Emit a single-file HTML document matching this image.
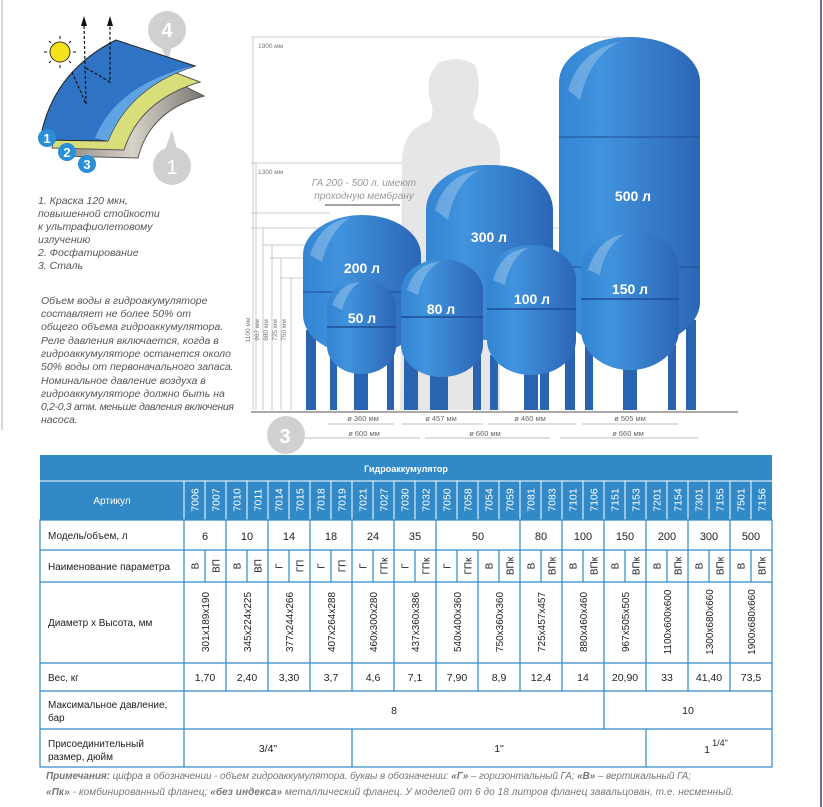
<!DOCTYPE html>
<html><head><meta charset="utf-8">
<style>
html,body{margin:0;padding:0;background:#fff;}
svg{display:block;font-family:"Liberation Sans","DejaVu Sans",sans-serif;}
</style></head><body>
<svg width="823" height="807" viewBox="0 0 823 807" xmlns="http://www.w3.org/2000/svg">
<defs>
<linearGradient id="tg" x1="0" y1="0" x2="1" y2="0">
<stop offset="0" stop-color="#3384d2"/><stop offset="0.3" stop-color="#4193dd"/><stop offset="1" stop-color="#2c66b6"/>
</linearGradient>
<linearGradient id="gr" x1="0" y1="0" x2="1" y2="0">
<stop offset="0" stop-color="#8a8680"/><stop offset="0.5" stop-color="#d8d4cc"/><stop offset="1" stop-color="#7a766e"/>
</linearGradient>
</defs>
<rect width="823" height="807" fill="#fff"/>
<line x1="2" y1="0" x2="2" y2="430" stroke="#ccc" stroke-width="1.5"/>
<line x1="821" y1="0" x2="821" y2="807" stroke="#4a3a7a" stroke-width="1.5"/>

<!-- left illustration -->
<circle cx="167" cy="30" r="19" fill="#d0d0d0"/><path d="M160,45 L172,45 L168,62 Z" fill="#d0d0d0"/>
<text x="167" y="37" font-size="20" fill="#fff" text-anchor="middle" font-weight="bold">4</text>
<circle cx="172" cy="166" r="19" fill="#d0d0d0"/><path d="M165,150 L177,150 L172,130 Z" fill="#d0d0d0"/>
<text x="172" y="174" font-size="20" fill="#fff" text-anchor="middle">1</text>
<path d="M60,156 Q70,90 136,62 L204,96 Q150,110 138,158 Z" fill="url(#gr)" stroke="#555" stroke-width="1"/>
<path d="M52,148 Q62,82 126,54 L200,82 Q140,100 124,150 Z" fill="#d8df7a" stroke="#555" stroke-width="1"/>
<path d="M40,140 Q52,72 116,40 L195,66 Q130,86 108,141 Z" fill="#2f74c4" stroke="#222" stroke-width="1"/>
<path d="M95,138 Q115,88 185,68 L195,66 Q130,86 108,141 Z" fill="#5fa3e3"/>
<circle cx="60" cy="52" r="10" fill="#f5e21a" stroke="#333"/>
<g stroke="#333" stroke-width="1.2"><line x1="60" y1="36" x2="60" y2="39"/><line x1="60" y1="65" x2="60" y2="68"/><line x1="44" y1="52" x2="47" y2="52"/><line x1="73" y1="52" x2="76" y2="52"/><line x1="49" y1="41" x2="51" y2="43"/><line x1="69" y1="61" x2="71" y2="63"/><line x1="49" y1="63" x2="51" y2="61"/><line x1="69" y1="43" x2="71" y2="41"/></g>
<g stroke="#111" stroke-width="1.2" stroke-dasharray="3,2" fill="none"><path d="M72,72 L86,104 L84,24"/><path d="M86,68 L110,82 L110,24"/></g>
<path d="M81,26 L84,16 L87,26 Z M107,26 L110,16 L113,26 Z" fill="#111"/>
<circle cx="47" cy="138" r="9" fill="#2a8fd6"/><text x="47" y="143" font-size="13" fill="#fff" text-anchor="middle" font-weight="bold">1</text>
<circle cx="67" cy="152" r="9" fill="#2a8fd6"/><text x="67" y="157" font-size="13" fill="#fff" text-anchor="middle" font-weight="bold">2</text>
<circle cx="87" cy="164" r="9" fill="#2a8fd6"/><text x="87" y="169" font-size="13" fill="#fff" text-anchor="middle" font-weight="bold">3</text>
<g font-size="10.5" font-style="italic" fill="#555">
<text x="38" y="204">1. Краска 120 мкн,</text>
<text x="38" y="217">повышенной стойкости</text>
<text x="38" y="230">к ультрафиолетовому</text>
<text x="38" y="243">излучению</text>
<text x="38" y="256">2. Фосфатирование</text>
<text x="38" y="269">3. Сталь</text>
<text x="41" y="304">Объем воды в гидроакумуляторе</text>
<text x="41" y="317">составляет не более 50% от</text>
<text x="41" y="330">общего объема гидроаккумулятора.</text>
<text x="41" y="344">Реле давления включается, когда в</text>
<text x="41" y="357">гидроаккумуляторе останется около</text>
<text x="41" y="370">50% воды от первоначального запаса.</text>
<text x="41" y="384">Номинальное давление воздуха в</text>
<text x="41" y="397">гидроаккумуляторе  должно быть на</text>
<text x="41" y="410" textLength="193">0,2-0,3 атм. меньше давления включения</text>
<text x="41" y="423">насоса.</text>
</g>

<!-- dimension lines -->
<g stroke="#bbb" stroke-width="0.8">
<line x1="251" y1="37" x2="620" y2="37"/><line x1="253" y1="37" x2="253" y2="410"/>
<line x1="251" y1="163" x2="430" y2="163"/><line x1="256" y1="163" x2="256" y2="410"/>
<line x1="251" y1="213" x2="330" y2="213"/>
<line x1="251" y1="228" x2="560" y2="228"/><line x1="263" y1="228" x2="263" y2="410"/>
<line x1="262" y1="245" x2="500" y2="245"/><line x1="272" y1="245" x2="272" y2="410"/>
<line x1="270" y1="258" x2="420" y2="258"/><line x1="281" y1="258" x2="281" y2="410"/>
<line x1="280" y1="278" x2="340" y2="278"/><line x1="291" y1="278" x2="291" y2="410"/>
</g>
<g font-size="6.5" fill="#777">
<text x="258" y="48">1900 мм</text><text x="258" y="174">1300 мм</text>
<text transform="translate(250,330) rotate(-90)" text-anchor="middle">1100 мм</text>
<text transform="translate(259,330) rotate(-90)" text-anchor="middle">967 мм</text>
<text transform="translate(268,330) rotate(-90)" text-anchor="middle">880 мм</text>
<text transform="translate(277,330) rotate(-90)" text-anchor="middle">725 мм</text>
<text transform="translate(286,330) rotate(-90)" text-anchor="middle">750 мм</text>
</g>

<!-- person -->
<path d="M440,62 Q460,55 475,65 Q482,85 476,105 Q470,115 478,122 Q498,128 500,150 L500,410 L400,410 L402,160 Q404,128 428,122 Q436,115 430,100 Q424,75 440,62 Z" fill="#e6e6e6"/>

<!-- tanks -->
<g fill="#2a64b0">
<rect x="565" y="320" width="10" height="90"/><rect x="686" y="320" width="10" height="90"/>
<rect x="306" y="330" width="10" height="80"/><rect x="408" y="330" width="10" height="80"/>
<rect x="430" y="320" width="9" height="90"/><rect x="540" y="320" width="9" height="90"/>
</g>
<rect x="559" y="37" width="141" height="310" rx="70" ry="45" fill="url(#tg)"/>
<line x1="559" y1="137" x2="700" y2="137" stroke="#1d4f95"/>
<line x1="559" y1="267" x2="700" y2="267" stroke="#1d4f95"/>
<rect x="303" y="215" width="118" height="140" rx="59" ry="40" fill="url(#tg)"/>
<line x1="303" y1="292" x2="421" y2="292" stroke="#1d4f95"/>
<rect x="426" y="165" width="127" height="175" rx="60" ry="45" fill="url(#tg)"/>
<g fill="#2a64b0">
<rect x="585" y="345" width="8" height="65"/><rect x="668" y="345" width="8" height="65"/><rect x="623" y="350" width="14" height="60"/>
<rect x="490" y="355" width="8" height="55"/><rect x="566" y="355" width="8" height="55"/><rect x="524" y="360" width="14" height="50"/>
<rect x="404" y="355" width="8" height="55"/><rect x="473" y="355" width="8" height="55"/><rect x="434" y="360" width="14" height="50"/>
<rect x="330" y="350" width="7" height="60"/><rect x="387" y="350" width="7" height="60"/><rect x="354" y="350" width="14" height="60"/>
</g>
<rect x="581" y="230" width="98" height="140" rx="49" ry="40" fill="url(#tg)"/>
<line x1="581" y1="299" x2="679" y2="299" stroke="#1d4f95" stroke-width="1.5"/>
<rect x="487" y="245" width="89" height="130" rx="44" ry="35" fill="url(#tg)"/>
<line x1="487" y1="309" x2="576" y2="309" stroke="#1d4f95" stroke-width="1.5"/>
<rect x="401" y="259" width="82" height="118" rx="41" ry="32" fill="url(#tg)"/>
<line x1="401" y1="317" x2="483" y2="317" stroke="#1d4f95" stroke-width="1.5"/>
<rect x="327" y="279" width="69" height="95" rx="34" ry="28" fill="url(#tg)"/>
<line x1="327" y1="327" x2="396" y2="327" stroke="#1d4f95" stroke-width="1.5"/>
<g fill="#ffffff" opacity="0.25">
<path d="M568,90 Q580,50 620,42 Q590,55 580,100 Z"/><path d="M435,210 Q445,175 480,170 Q455,182 448,220 Z"/>
<path d="M310,255 Q320,222 350,218 Q330,230 322,262 Z"/><path d="M588,270 Q598,238 625,234 Q605,245 600,275 Z"/>
<path d="M493,280 Q502,250 528,248 Q510,258 505,285 Z"/><path d="M407,290 Q415,263 440,262 Q424,270 418,295 Z"/>
<path d="M332,305 Q340,283 360,282 Q347,290 342,310 Z"/>
</g>
<g fill="#fff" font-weight="bold" font-size="14" text-anchor="middle">
<text x="633" y="201">500 л</text><text x="489" y="242">300 л</text><text x="362" y="273">200 л</text>
<text x="630" y="294">150 л</text><text x="532" y="304">100 л</text><text x="441" y="314">80 л</text><text x="362" y="323">50 л</text>
</g>
<g font-size="10" font-style="italic" fill="#999" text-anchor="middle">
<text x="364" y="186">ГА 200 - 500 л. имеют</text><text x="364" y="199">проходную мембрану</text>
</g>
<line x1="325" y1="205" x2="400" y2="205" stroke="#444"/>
<line x1="251" y1="412" x2="738" y2="412" stroke="#777" stroke-width="1.2"/>
<g stroke="#aaa" stroke-width="0.7">
<line x1="328" y1="424" x2="394" y2="424"/><line x1="402" y1="424" x2="483" y2="424"/><line x1="488" y1="424" x2="576" y2="424"/><line x1="582" y1="424" x2="678" y2="424"/>
<line x1="305" y1="438" x2="420" y2="438"/><line x1="425" y1="438" x2="550" y2="438"/><line x1="560" y1="438" x2="698" y2="438"/>
</g>
<g font-size="7.5" fill="#666" text-anchor="middle">
<text x="363" y="421">ø 360 мм</text><text x="441" y="421">ø 457 мм</text><text x="530" y="421">ø 460 мм</text><text x="630" y="421">ø 505 мм</text>
<text x="364" y="436">ø 600 мм</text><text x="485" y="436">ø 660 мм</text><text x="628" y="436">ø 660 мм</text>
</g>
<circle cx="286" cy="435" r="19" fill="#d0d0d0"/><text x="285" y="443" font-size="20" fill="#fff" text-anchor="middle" font-weight="bold">3</text>

<!-- table -->
<rect x="40" y="455" width="732" height="65" fill="#3189c8"/>
<line x1="40" y1="481" x2="772" y2="481" stroke="#fff" stroke-width="1"/>
<text x="406" y="472" fill="#fff" font-size="9" font-weight="bold" text-anchor="middle">Гидроаккумулятор</text>
<text x="112" y="504" fill="#fff" font-size="10" text-anchor="middle">Артикул</text>
<g stroke="#fff" stroke-width="1">
<line x1="184" y1="481" x2="184" y2="520"/><line x1="205" y1="481" x2="205" y2="520"/><line x1="226" y1="481" x2="226" y2="520"/><line x1="247" y1="481" x2="247" y2="520"/><line x1="268" y1="481" x2="268" y2="520"/><line x1="289" y1="481" x2="289" y2="520"/><line x1="310" y1="481" x2="310" y2="520"/><line x1="331" y1="481" x2="331" y2="520"/><line x1="352" y1="481" x2="352" y2="520"/><line x1="373" y1="481" x2="373" y2="520"/><line x1="394" y1="481" x2="394" y2="520"/><line x1="415" y1="481" x2="415" y2="520"/><line x1="436" y1="481" x2="436" y2="520"/><line x1="457" y1="481" x2="457" y2="520"/><line x1="478" y1="481" x2="478" y2="520"/><line x1="499" y1="481" x2="499" y2="520"/><line x1="520" y1="481" x2="520" y2="520"/><line x1="541" y1="481" x2="541" y2="520"/><line x1="562" y1="481" x2="562" y2="520"/><line x1="583" y1="481" x2="583" y2="520"/><line x1="604" y1="481" x2="604" y2="520"/><line x1="625" y1="481" x2="625" y2="520"/><line x1="646" y1="481" x2="646" y2="520"/><line x1="667" y1="481" x2="667" y2="520"/><line x1="688" y1="481" x2="688" y2="520"/><line x1="709" y1="481" x2="709" y2="520"/><line x1="730" y1="481" x2="730" y2="520"/><line x1="751" y1="481" x2="751" y2="520"/>
</g>
<g fill="#fff" font-size="10.5" text-anchor="middle">
<text transform="translate(198.5,500) rotate(-90)">7006</text><text transform="translate(219.5,500) rotate(-90)">7007</text><text transform="translate(240.5,500) rotate(-90)">7010</text><text transform="translate(261.5,500) rotate(-90)">7011</text><text transform="translate(282.5,500) rotate(-90)">7014</text><text transform="translate(303.5,500) rotate(-90)">7015</text><text transform="translate(324.5,500) rotate(-90)">7018</text><text transform="translate(345.5,500) rotate(-90)">7019</text><text transform="translate(366.5,500) rotate(-90)">7021</text><text transform="translate(387.5,500) rotate(-90)">7027</text><text transform="translate(408.5,500) rotate(-90)">7030</text><text transform="translate(429.5,500) rotate(-90)">7032</text><text transform="translate(450.5,500) rotate(-90)">7050</text><text transform="translate(471.5,500) rotate(-90)">7058</text><text transform="translate(492.5,500) rotate(-90)">7054</text><text transform="translate(513.5,500) rotate(-90)">7059</text><text transform="translate(534.5,500) rotate(-90)">7081</text><text transform="translate(555.5,500) rotate(-90)">7083</text><text transform="translate(576.5,500) rotate(-90)">7101</text><text transform="translate(597.5,500) rotate(-90)">7106</text><text transform="translate(618.5,500) rotate(-90)">7151</text><text transform="translate(639.5,500) rotate(-90)">7153</text><text transform="translate(660.5,500) rotate(-90)">7201</text><text transform="translate(681.5,500) rotate(-90)">7154</text><text transform="translate(702.5,500) rotate(-90)">7301</text><text transform="translate(723.5,500) rotate(-90)">7155</text><text transform="translate(744.5,500) rotate(-90)">7501</text><text transform="translate(765.5,500) rotate(-90)">7156</text>
</g>
<g stroke="#3189c8" stroke-width="1.2" fill="none">
<rect x="40" y="520" width="732" height="247"/>
<line x1="40" y1="550" x2="772" y2="550"/><line x1="40" y1="582" x2="772" y2="582"/><line x1="40" y1="663" x2="772" y2="663"/><line x1="40" y1="691" x2="772" y2="691"/><line x1="40" y1="729" x2="772" y2="729"/>
<line x1="184" y1="520" x2="184" y2="767"/>
<path d="M226,520V550M268,520V550M310,520V550M352,520V550M394,520V550M436,520V550M520,520V550M562,520V550M604,520V550M646,520V550M688,520V550M730,520V550"/>
<path d="M205,550V582M226,550V582M247,550V582M268,550V582M289,550V582M310,550V582M331,550V582M352,550V582M373,550V582M394,550V582M415,550V582M436,550V582M457,550V582M478,550V582M499,550V582M520,550V582M541,550V582M562,550V582M583,550V582M604,550V582M625,550V582M646,550V582M667,550V582M688,550V582M709,550V582M730,550V582M751,550V582"/>
<path d="M226,582V691M268,582V691M310,582V691M352,582V691M394,582V691M436,582V691M478,582V691M520,582V691M562,582V691M604,582V691M646,582V691M688,582V691M730,582V691"/>
<path d="M604,691V729M352,729V767M646,729V767"/>
</g>
<g font-size="10" fill="#222">
<text x="48" y="539">Модель/объем, л</text>
<text x="48" y="570">Наименование параметра</text>
<text x="48" y="626">Диаметр x Высота, мм</text>
<text x="48" y="681">Вес, кг</text>
<text x="48" y="708">Максимальное давление,</text><text x="48" y="721">бар</text>
<text x="48" y="747">Присоединительный</text><text x="48" y="760">размер, дюйм</text>
</g>
<g font-size="11" fill="#222" text-anchor="middle">
<text x="205" y="540">6</text><text x="247" y="540">10</text><text x="289" y="540">14</text><text x="331" y="540">18</text><text x="373" y="540">24</text><text x="415" y="540">35</text><text x="478" y="540">50</text><text x="541" y="540">80</text><text x="583" y="540">100</text><text x="625" y="540">150</text><text x="667" y="540">200</text><text x="709" y="540">300</text><text x="751" y="540">500</text>
</g>
<g font-size="10" fill="#222" text-anchor="middle">
<text transform="translate(198.5,566) rotate(-90)">В</text><text transform="translate(219.5,566) rotate(-90)">ВП</text><text transform="translate(240.5,566) rotate(-90)">В</text><text transform="translate(261.5,566) rotate(-90)">ВП</text><text transform="translate(282.5,566) rotate(-90)">Г</text><text transform="translate(303.5,566) rotate(-90)">ГП</text><text transform="translate(324.5,566) rotate(-90)">Г</text><text transform="translate(345.5,566) rotate(-90)">ГП</text><text transform="translate(366.5,566) rotate(-90)">Г</text><text transform="translate(387.5,566) rotate(-90)">ГПк</text><text transform="translate(408.5,566) rotate(-90)">Г</text><text transform="translate(429.5,566) rotate(-90)">ГПк</text><text transform="translate(450.5,566) rotate(-90)">Г</text><text transform="translate(471.5,566) rotate(-90)">ГПк</text><text transform="translate(492.5,566) rotate(-90)">В</text><text transform="translate(513.5,566) rotate(-90)">ВПк</text><text transform="translate(534.5,566) rotate(-90)">В</text><text transform="translate(555.5,566) rotate(-90)">ВПк</text><text transform="translate(576.5,566) rotate(-90)">В</text><text transform="translate(597.5,566) rotate(-90)">ВПк</text><text transform="translate(618.5,566) rotate(-90)">В</text><text transform="translate(639.5,566) rotate(-90)">ВПк</text><text transform="translate(660.5,566) rotate(-90)">В</text><text transform="translate(681.5,566) rotate(-90)">ВПк</text><text transform="translate(702.5,566) rotate(-90)">В</text><text transform="translate(723.5,566) rotate(-90)">ВПк</text><text transform="translate(744.5,566) rotate(-90)">В</text><text transform="translate(765.5,566) rotate(-90)">ВПк</text>
</g>
<g font-size="10" fill="#222" text-anchor="middle">
<text transform="translate(209,622) rotate(-90)">301x189x190</text><text transform="translate(251,622) rotate(-90)">345x224x225</text><text transform="translate(293,622) rotate(-90)">377x244x266</text><text transform="translate(335,622) rotate(-90)">407x264x288</text><text transform="translate(377,622) rotate(-90)">460x300x280</text><text transform="translate(419,622) rotate(-90)">437x360x386</text><text transform="translate(461,622) rotate(-90)">540x400x360</text><text transform="translate(503,622) rotate(-90)">750x360x360</text><text transform="translate(545,622) rotate(-90)">725x457x457</text><text transform="translate(587,622) rotate(-90)">880x460x460</text><text transform="translate(629,622) rotate(-90)">967x505x505</text><text transform="translate(671,622) rotate(-90)">1100x600x600</text><text transform="translate(713,622) rotate(-90)">1300x680x660</text><text transform="translate(755,622) rotate(-90)">1900x680x660</text>
</g>
<g font-size="10.5" fill="#222" text-anchor="middle">
<text x="205" y="681">1,70</text><text x="247" y="681">2,40</text><text x="289" y="681">3,30</text><text x="331" y="681">3,7</text><text x="373" y="681">4,6</text><text x="415" y="681">7,1</text><text x="457" y="681">7,90</text><text x="499" y="681">8,9</text><text x="541" y="681">12,4</text><text x="583" y="681">14</text><text x="625" y="681">20,90</text><text x="667" y="681">33</text><text x="709" y="681">41,40</text><text x="751" y="681">73,5</text>
<text x="394" y="714">8</text><text x="688" y="714">10</text>
<text x="268" y="752">3/4"</text><text x="499" y="752">1"</text><text x="707" y="753">1</text><text x="720" y="746" font-size="9">1/4"</text>
</g>
<g font-size="10" font-style="italic" fill="#777">
<text x="46" y="779" textLength="645"><tspan font-weight="bold">Примечания:</tspan> цифра в обозначении - объем гидроаккумулятора. буквы в обозначении: <tspan font-weight="bold">«Г»</tspan> – горизонтальный ГА; <tspan font-weight="bold">«В»</tspan> – вертикальный ГА;</text>
<text x="46" y="795" textLength="688"><tspan font-weight="bold">«Пк»</tspan> - комбинированный фланец; <tspan font-weight="bold">«без индекса»</tspan> металлический фланец. У моделей от 6 до 18 литров фланец завальцован, т.е. несменный.</text>
</g>
</svg>
</body></html>
